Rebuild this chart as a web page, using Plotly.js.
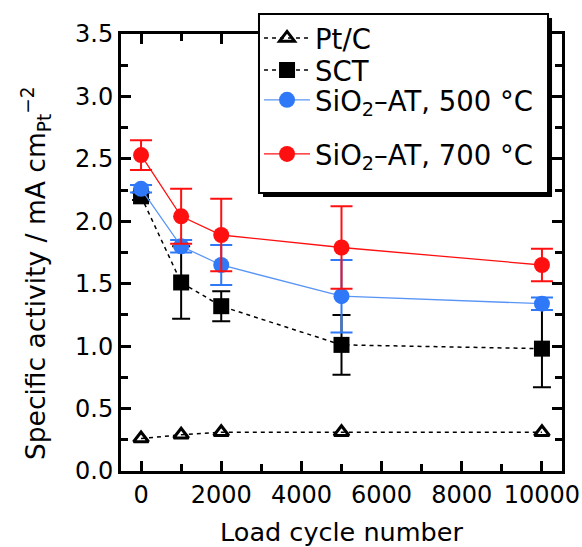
<!DOCTYPE html>
<html><head><meta charset="utf-8">
<script src="https://cdn.plot.ly/plotly-3.0.1.min.js"></script>
<style>html,body{margin:0;padding:0;background:#fff}#plot{width:582px;height:547px}</style>
</head><body><div id="plot"></div>
<script>
const cycles = [0, 1000, 2000, 5000, 10000];
const ptcY = [0.26, 0.29, 0.31, 0.31, 0.31];
const sctY = [2.20, 1.51, 1.32, 1.01, 0.98];
const sctErr = [0.03, 0.29, 0.12, 0.24, 0.31];
const at500Y = [2.26, 1.80, 1.65, 1.40, 1.34];
const at500Err = [0.03, 0.05, 0.16, 0.29, 0.05];
const at700Y = [2.53, 2.04, 1.89, 1.79, 1.65];
const at700Err = [0.12, 0.22, 0.29, 0.33, 0.13];
const names = ['Pt/C', 'SCT', 'SiO<sub>2</sub>–AT, 500 °C', 'SiO<sub>2</sub>–AT, 700 °C'];
const xTicks = [0, 2000, 4000, 6000, 8000, 10000];
const xTickText = ['0', '2000', '4000', '6000', '8000', '10000'];
const yTitle = 'Specific activity / mA cm<sub>Pt</sub><sup>−2</sup>';
const xTitle = 'Load cycle number';

const FONT = 'DejaVu Sans, Liberation Sans, Arial, sans-serif';
const blue = '#2f78f7', red = '#ff1010';

const traces = [
  {x: cycles, y: ptcY, name: names[0], mode: 'lines+markers', legend: 'legend',
   line: {color: '#000', width: 1.5, dash: '4px,4px'},
   marker: {symbol: 'triangle-up-open', size: 13, color: '#000', line: {width: 3, color: '#000'}}},
  {x: cycles, y: sctY, name: names[1], mode: 'lines+markers', legend: 'legend2',
   line: {color: '#000', width: 1.5, dash: '4px,4px'},
   marker: {symbol: 'square', size: 16, color: '#000'},
   error_y: {type: 'data', array: sctErr, color: '#000', thickness: 2, width: 9}},
  {x: cycles, y: at500Y, name: names[2], mode: 'lines+markers', legend: 'legend3',
   line: {color: '#5a95f5', width: 1.3},
   marker: {symbol: 'circle', size: 16, color: blue},
   error_y: {type: 'data', array: at500Err, color: blue, thickness: 2, width: 11}},
  {x: cycles, y: at700Y, name: names[3], mode: 'lines+markers', legend: 'legend4',
   line: {color: red, width: 1.3},
   marker: {symbol: 'circle', size: 16, color: red},
   error_y: {type: 'data', array: at700Err, color: red, thickness: 2, width: 11}}
];

const axisCommon = {
  showline: true, linecolor: '#000', linewidth: 3, mirror: 'ticks',
  ticks: 'inside', ticklen: 10, tickwidth: 3, tickcolor: '#000',
  showgrid: false, zeroline: false,
  tickfont: {family: FONT, size: 24, color: '#000'}
};

function leg(yPos) {
  return {
    x: 0.313, y: yPos, xanchor: 'left', yanchor: 'middle',
    bgcolor: 'rgba(0,0,0,0)', borderwidth: 0,
    font: {family: FONT, size: 27.5, color: '#000'},
    itemwidth: 46
  };
}

// legend frame (px → paper): plot area x 121..562, y 34..471
const fx0 = 0.3129, fx1 = 0.9683, fy0 = 0.6362, fy1 = 1.0458;
const sdx = 0.0091, sdy = 0.0092;
const NB = '\u00a0';

const layout = {
  width: 582, height: 547,
  margin: {l: 121, r: 20, t: 34, b: 76},
  paper_bgcolor: '#fff', plot_bgcolor: '#fff',
  font: {family: FONT, color: '#000'},
  showlegend: true,
  xaxis: Object.assign({}, axisCommon, {
    range: [-500, 10500], tickvals: xTicks, ticktext: xTickText,
    minor: {dtick: 1000, tick0: 0, ticks: 'inside', ticklen: 7, tickwidth: 3, tickcolor: '#000'},
    title: {text: NB + NB + xTitle, font: {family: FONT, size: 25.5}, standoff: 17}
  }),
  yaxis: Object.assign({}, axisCommon, {
    range: [0, 3.5], dtick: 0.5, tick0: 0, tickformat: '.1f',
    minor: {dtick: 0.25, tick0: 0, ticks: 'inside', ticklen: 7, tickwidth: 3, tickcolor: '#000'}
  }),
  annotations: [
    {text: yTitle, xref: 'paper', yref: 'paper', x: -0.1927, y: 0.453,
     xanchor: 'center', yanchor: 'middle', textangle: -90, showarrow: false,
     font: {family: FONT, size: 26.5, color: '#000'}}
  ],
  legend: leg(0.9908),
  legend2: leg(0.9176),
  legend3: leg(0.849),
  legend4: leg(0.7254),
  shapes: [
    {type: 'rect', xref: 'paper', yref: 'paper', layer: 'above',
     x0: fx0 + sdx, x1: fx1 + sdx, y0: fy0 - sdy, y1: fy1 - sdy,
     fillcolor: '#000', line: {width: 0}},
    {type: 'rect', xref: 'paper', yref: 'paper', layer: 'above',
     x0: fx0, x1: fx1, y0: fy0, y1: fy1,
     fillcolor: '#fff', line: {color: '#000', width: 2}}
  ]
};

Plotly.newPlot('plot', traces, layout, {displayModeBar: false, staticPlot: true});
</script></body></html>
